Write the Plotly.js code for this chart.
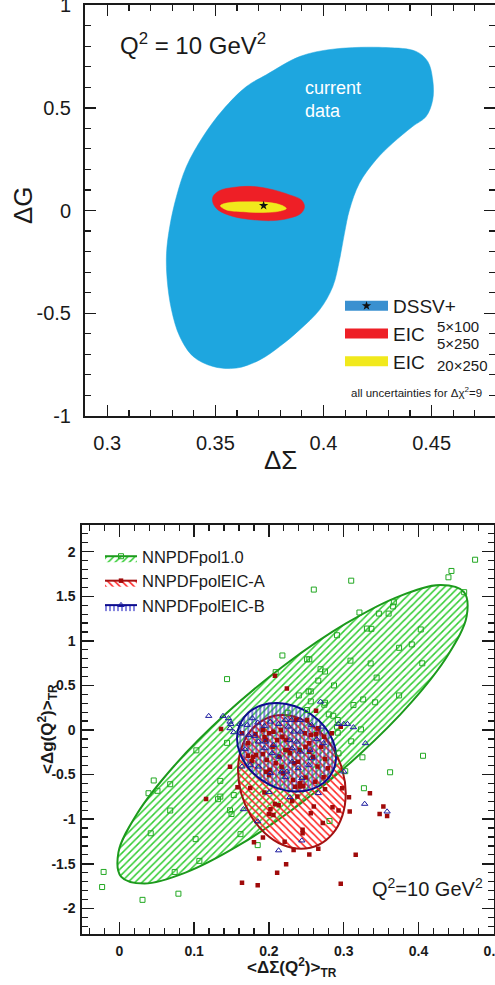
<!DOCTYPE html>
<html><head><meta charset="utf-8">
<script src="https://cdn.plot.ly/plotly-3.0.1.min.js"></script>
<style>html,body{margin:0;padding:0;background:#fff}#chart{width:495px;height:985px}</style>
</head><body><div id="chart"></div>
<script>
// ---------- TOP PANEL DATA (ΔΣ vs ΔG, Q^2 = 10 GeV^2) ----------
var dssvBandX = [0.3735,0.3889,0.4043,0.4289,0.4428,0.4482,0.4505,0.4505,0.4474,0.4412,0.4320,0.4243,0.4166,0.4120,0.4097,0.4074,0.4043,0.3982,0.3889,0.3797,0.3705,0.3597,0.3489,0.3397,0.3335,0.3297,0.3277,0.3274,0.3289,0.3320,0.3366,0.3443,0.3535,0.3643,0.3735];
var dssvBandY = [0.660,0.749,0.785,0.793,0.774,0.725,0.636,0.539,0.457,0.409,0.328,0.247,0.133,0.003,-0.110,-0.240,-0.370,-0.483,-0.581,-0.662,-0.727,-0.767,-0.759,-0.710,-0.613,-0.483,-0.337,-0.208,-0.078,0.068,0.214,0.360,0.490,0.603,0.660];
var eicLowX = [0.3489,0.3520,0.3582,0.3674,0.3766,0.3843,0.3897,0.3912,0.3897,0.3843,0.3766,0.3674,0.3582,0.3512,0.3489,0.3489];
var eicLowY = [0.068,0.097,0.112,0.117,0.101,0.076,0.052,0.019,-0.013,-0.037,-0.049,-0.045,-0.029,0.003,0.036,0.068];
var eicHighX = [0.3523,0.3551,0.3628,0.3720,0.3797,0.3828,0.3797,0.3720,0.3628,0.3551,0.3523];
var eicHighY = [0.023,0.036,0.042,0.041,0.029,0.010,-0.003,-0.010,-0.006,0.003,0.023];
var dssvBestX = [0.3723];
var dssvBestY = [0.024];
var topXTicks = [0.3,0.35,0.4,0.45];
var topXTickText = ['0.3','0.35','0.4','0.45'];
var topYTicks = [-1,-0.5,0,0.5,1];
var topYTickText = ['-1','-0.5','0','0.5','1'];

// ---------- BOTTOM PANEL DATA ----------
var nnpdfEllX = [0.4608,0.4297,0.3748,0.3025,0.2216,0.1420,0.0732,0.0235,-0.0012,0.0023,0.0334,0.0884,0.1606,0.2415,0.3211,0.3900,0.4396,0.4643,0.4608];
var nnpdfEllY = [1.5466,1.6254,1.5022,1.1922,0.7321,0.1784,-0.4034,-0.9418,-1.3724,-1.6437,-1.7224,-1.5993,-1.2892,-0.8291,-0.2754,0.3063,0.8448,1.2754,1.5466];
var eicAEllX = [0.3027,0.2983,0.2858,0.2667,0.2432,0.2182,0.1947,0.1755,0.1630,0.1587,0.1630,0.1755,0.1947,0.2182,0.2432,0.2667,0.2858,0.2983,0.3027];
var eicAEllY = [-0.7123,-0.9571,-1.1567,-1.2869,-1.3321,-1.2869,-1.1567,-0.9571,-0.7123,-0.4519,-0.2071,-0.0075,0.1228,0.1679,0.1228,-0.0075,-0.2071,-0.4519,-0.7123];
var eicBEllX = [0.2898,0.2858,0.2743,0.2567,0.2351,0.2120,0.1904,0.1728,0.1613,0.1573,0.1613,0.1728,0.1904,0.2120,0.2351,0.2567,0.2743,0.2858,0.2898];
var eicBEllY = [-0.2974,-0.4571,-0.5851,-0.6660,-0.6899,-0.6541,-0.5627,-0.4269,-0.2631,-0.0907,0.0690,0.1970,0.2780,0.3019,0.2660,0.1746,0.0388,-0.1250,-0.2974];

var nnpdfRepX = [0.4756,0.444,0.440,0.310,0.260,0.461,0.367,0.366,0.360,0.347,0.321,0.331,0.337,0.403,0.291,0.391,0.374,0.218,0.251,0.254,0.309,0.336,0.405,0.209,0.269,0.275,0.144,0.266,0.344,0.287,0.253,0.256,0.240,0.374,0.326,0.256,0.275,0.274,0.342,0.313,0.251,0.225,0.280,0.286,0.292,0.291,0.323,0.292,0.310,0.144,0.103,0.293,0.325,0.362,0.406,0.302,0.135,0.046,0.068,0.039,0.051,0.153,0.135,0.132,0.327,0.068,0.148,0.150,0.281,0.042,0.102,0.162,0.185,0.107,-0.021,-0.023,0.074,0.079,0.031];
var nnpdfRepY = [1.910,1.784,1.713,1.675,1.575,1.546,1.433,1.386,1.306,1.306,1.318,1.138,1.135,1.128,1.063,0.960,0.922,0.836,0.793,0.793,0.778,0.747,0.748,0.649,0.682,0.656,0.571,0.554,0.588,0.500,0.433,0.433,0.388,0.388,0.343,0.321,0.306,0.284,0.311,0.280,0.224,0.194,0.175,0.160,0.112,0.037,0.007,-0.030,-0.127,-0.144,-0.228,-0.261,-0.306,-0.474,-0.289,-0.462,-0.571,-0.566,-0.608,-0.709,-0.682,-0.730,-0.747,-0.776,-0.653,-0.903,-0.900,-0.942,-1.021,-1.158,-1.224,-1.168,-1.291,-1.468,-1.592,-1.761,-1.592,-1.836,-1.905];

var eicARepX = [0.208,0.224,0.136,0.263,0.296,0.148,0.158,0.175,0.116,0.194,0.208,0.213,0.200,0.206,0.202,0.172,0.177,0.183,0.192,0.197,0.194,0.182,0.200,0.206,0.211,0.218,0.222,0.214,0.209,0.196,0.200,0.217,0.275,0.298,0.307,0.335,0.353,0.358,0.348,0.308,0.293,0.285,0.260,0.256,0.275,0.231,0.238,0.251,0.256,0.263,0.266,0.284,0.249,0.254,0.239,0.226,0.249,0.242,0.235,0.246,0.262,0.273,0.279,0.164,0.172,0.179,0.192,0.196,0.205,0.216,0.223,0.228,0.234,0.241,0.248,0.254,0.259,0.265,0.270,0.274,0.236,0.201,0.219,0.232,0.241,0.180,0.192,0.221,0.187,0.223,0.211,0.164,0.185,0.272,0.245,0.245,0.266,0.254,0.233,0.316,0.296];
var eicARepY = [0.608,0.466,0.011,0.215,0.037,-0.411,-0.642,-0.650,-0.773,-0.702,-0.829,-0.844,-0.941,-0.952,-0.889,-0.288,-0.347,-0.280,-0.269,-0.336,-0.082,-0.048,-0.037,-0.019,-0.112,-0.075,-0.224,-0.299,-0.373,-0.467,-0.504,-0.411,-0.325,-0.653,-0.754,-0.709,-0.859,-0.964,-0.941,-0.915,-0.904,-0.866,-0.859,-0.934,-0.665,-0.795,-0.747,0.112,-0.056,-0.048,0.019,-0.037,-0.187,-0.243,-0.355,-0.224,-0.534,-0.597,-0.635,-0.627,-0.579,-0.530,-0.429,-0.037,-0.149,-0.299,0.000,-0.112,-0.187,0.000,-0.112,-0.261,-0.373,-0.224,-0.037,-0.149,-0.299,-0.410,-0.187,-0.075,0.112,-0.448,-0.485,-0.560,-0.634,-1.259,-1.207,-1.252,-1.442,-1.505,-1.602,-1.714,-1.740,-1.042,-1.120,-1.157,-1.333,-1.397,-1.345,-1.400,-1.725];

var eicBRepX = [0.1195,0.1386,0.146,0.149,0.148,0.153,0.161,0.171,0.178,0.185,0.194,0.202,0.213,0.222,0.173,0.181,0.186,0.195,0.206,0.168,0.194,0.204,0.213,0.164,0.175,0.186,0.202,0.217,0.222,0.166,0.269,0.293,0.300,0.305,0.313,0.329,0.230,0.242,0.226,0.233,0.242,0.257,0.271,0.264,0.273,0.228,0.237,0.231,0.242,0.255,0.257,0.231,0.239,0.253,0.224,0.244,0.300,0.266,0.228,0.328,0.358,0.213,0.244,0.185,0.200,0.148,0.162];
var eicBRepY = [0.157,0.157,0.131,0.067,0.019,-0.026,0.067,0.056,0.131,0.082,0.045,0.093,0.067,0.112,-0.056,-0.067,-0.131,-0.131,-0.168,-0.216,-0.205,-0.261,-0.299,-0.411,-0.392,-0.411,-0.485,-0.467,-0.530,-0.889,0.317,0.067,0.067,0.067,0.030,-0.149,0.112,0.112,0.037,-0.019,-0.019,0.056,0.037,-0.104,-0.149,-0.112,-0.131,-0.205,-0.243,-0.224,-0.317,-0.355,-0.429,-0.392,-0.467,-0.541,-0.467,-0.709,-0.754,-0.829,-0.915,-1.351,-1.240,-1.025,-0.698,0.093,-0.037];

var botXTicks = [0,0.1,0.2,0.3,0.4,0.5];
var botXTickText = ['0','0.1','0.2','0.3','0.4','0.5'];
var botYTicks = [-2,-1.5,-1,-0.5,0,0.5,1,1.5,2];
var botYTickText = ['-2','-1.5','-1','-0.5','0','0.5','1','1.5','2'];

// ---------- STYLES ----------
var INK = '#1a1a1a';
var FONT = 'Liberation Sans, Arial, Helvetica, sans-serif';
var cBlue = '#1ea6df', cBlueLeg = '#3a90d0', cRed = '#ee1f26', cYellow = '#f1e91c';
var gLine = '#1c9a1c', gHatch = '#33cc33', gPt = '#22a822';
var rLine = '#a31212', rHatch = '#ff2020', rPt = '#a00a0a';
var bLine = '#0c0c8e', bHatch = '#3535c8', bPt = '#1c1ca0';

var traces = [
  // top panel
  {x: dssvBandX, y: dssvBandY, xaxis:'x', yaxis:'y', mode:'lines', fill:'toself', fillcolor:cBlue,
   line:{color:cBlue, width:0.5, shape:'spline', smoothing:1}, showlegend:false, hoverinfo:'skip'},
  {x: eicLowX, y: eicLowY, xaxis:'x', yaxis:'y', mode:'lines', fill:'toself', fillcolor:cRed,
   line:{color:cRed, width:0.5, shape:'spline', smoothing:1}, showlegend:false, hoverinfo:'skip'},
  {x: eicHighX, y: eicHighY, xaxis:'x', yaxis:'y', mode:'lines', fill:'toself', fillcolor:cYellow,
   line:{color:cYellow, width:0.5, shape:'spline', smoothing:1}, showlegend:false, hoverinfo:'skip'},
  {x: dssvBestX, y: dssvBestY, xaxis:'x', yaxis:'y', mode:'markers',
   marker:{symbol:'star', size:7, color:'#111'}, showlegend:false},
  // legend entries for top panel (no data drawn)
  {x:[null], y:[null], xaxis:'x', yaxis:'y', mode:'lines+markers', line:{color:cBlueLeg, width:20},
   marker:{symbol:'star', size:7, color:'#111'}, name:'DSSV+', legend:'legend', legendrank:1},
  {x:[null], y:[null], xaxis:'x', yaxis:'y', mode:'lines', line:{color:cRed, width:20},
   name:'EIC', legend:'legend', legendrank:2},
  {x:[null], y:[null], xaxis:'x', yaxis:'y', mode:'lines', line:{color:cYellow, width:20},
   name:'EIC', legend:'legend', legendrank:3},

  // bottom panel ellipses
  {x: nnpdfEllX, y: nnpdfEllY, xaxis:'x2', yaxis:'y2', mode:'lines', fill:'toself', fillcolor:gHatch,
   fillpattern:{shape:'/', fgcolor:gHatch, bgcolor:'rgba(0,0,0,0)', size:5, solidity:0.3},
   line:{color:gLine, width:2, shape:'spline', smoothing:1}, showlegend:false, hoverinfo:'skip'},
  {x: eicAEllX, y: eicAEllY, xaxis:'x2', yaxis:'y2', mode:'lines', fill:'toself', fillcolor:rHatch,
   fillpattern:{shape:'\\', fgcolor:rHatch, bgcolor:'rgba(0,0,0,0)', size:5, solidity:0.3},
   line:{color:rLine, width:2, shape:'spline', smoothing:1}, showlegend:false, hoverinfo:'skip'},
  {x: eicBEllX, y: eicBEllY, xaxis:'x2', yaxis:'y2', mode:'lines', fill:'toself', fillcolor:bHatch,
   fillpattern:{shape:'|', fgcolor:bHatch, bgcolor:'rgba(0,0,0,0)', size:4, solidity:0.3},
   line:{color:bLine, width:2, shape:'spline', smoothing:1}, showlegend:false, hoverinfo:'skip'},
  // replicas
  {x: nnpdfRepX, y: nnpdfRepY, xaxis:'x2', yaxis:'y2', mode:'markers',
   marker:{symbol:'square-open', size:5, color:gPt, line:{width:1}}, showlegend:false},
  {x: eicARepX, y: eicARepY, xaxis:'x2', yaxis:'y2', mode:'markers',
   marker:{symbol:'square', size:4.5, color:rPt}, showlegend:false},
  {x: eicBRepX, y: eicBRepY, xaxis:'x2', yaxis:'y2', mode:'markers',
   marker:{symbol:'triangle-up-open', size:5.5, color:bPt, line:{width:1}}, showlegend:false},
  // legend entries for bottom panel (no data drawn)
  {x:[null], y:[null], xaxis:'x2', yaxis:'y2', mode:'lines+markers', fill:'toself', fillcolor:gHatch,
   fillpattern:{shape:'/', fgcolor:gHatch, bgcolor:'rgba(0,0,0,0)', size:5, solidity:0.3},
   line:{color:gLine, width:2}, marker:{symbol:'square-open', size:5, color:gPt, line:{width:1}},
   name:'NNPDFpol1.0', legend:'legend2', legendrank:1},
  {x:[null], y:[null], xaxis:'x2', yaxis:'y2', mode:'lines+markers', fill:'toself', fillcolor:rHatch,
   fillpattern:{shape:'\\', fgcolor:rHatch, bgcolor:'rgba(0,0,0,0)', size:5, solidity:0.3},
   line:{color:rLine, width:2}, marker:{symbol:'square', size:4.5, color:rPt},
   name:'NNPDFpolEIC-A', legend:'legend2', legendrank:2},
  {x:[null], y:[null], xaxis:'x2', yaxis:'y2', mode:'lines+markers', fill:'toself', fillcolor:bHatch,
   fillpattern:{shape:'|', fgcolor:bHatch, bgcolor:'rgba(0,0,0,0)', size:4, solidity:0.3},
   line:{color:bLine, width:2}, marker:{symbol:'triangle-up-open', size:5.5, color:bPt, line:{width:1}},
   name:'NNPDFpolEIC-B', legend:'legend2', legendrank:3}
];

function axisStyle(extra) {
  var base = {showgrid:false, zeroline:false, showline:true, linecolor:INK, linewidth:2, mirror:'allticks',
    ticks:'inside', tickcolor:INK, tickwidth:1.5, tickmode:'array', fixedrange:true, ticklabeloverflow:'allow'};
  for (var k in extra) base[k] = extra[k];
  return base;
}

var layout = {
  width:495, height:985, margin:{l:0, r:0, t:0, b:0, pad:0},
  paper_bgcolor:'#ffffff', plot_bgcolor:'rgba(0,0,0,0)',
  font:{family:FONT, color:INK},
  showlegend:true,
  xaxis: axisStyle({domain:[85/495, 1], range:[0.2897, 0.4793], anchor:'y',
    tickvals:topXTicks, ticktext:topXTickText, ticklen:11, tickfont:{size:20, color:INK}, ticklabelstandoff:8,
    minor:{tick0:0.3, dtick:0.01, ticks:'inside', ticklen:6, tickwidth:1.2, tickcolor:INK, showgrid:false}}),
  yaxis: axisStyle({domain:[1-416/985, 1-5/985], range:[-1, 1], anchor:'x',
    tickvals:topYTicks, ticktext:topYTickText, ticklen:11, tickfont:{size:20, color:INK}, ticklabelstandoff:8,
    minor:{tick0:0, dtick:0.1, ticks:'inside', ticklen:6, tickwidth:1.2, tickcolor:INK, showgrid:false}}),
  xaxis2: axisStyle({domain:[82.3/495, 494.3/495], range:[-0.0495, 0.5013], anchor:'y2',
    tickvals:botXTicks, ticktext:botXTickText, ticklen:12, tickfont:{size:14, color:INK, weight:'bold'}, ticklabelstandoff:3,
    minor:{tick0:0, dtick:0.02, ticks:'inside', ticklen:6, tickwidth:1.2, tickcolor:INK, showgrid:false}}),
  yaxis2: axisStyle({domain:[1-934/985, 1-525/985], range:[-2.288, 2.2995], anchor:'x2',
    tickvals:botYTicks, ticktext:botYTickText, ticklen:12, tickfont:{size:14, color:INK, weight:'bold'}, ticklabelstandoff:2,
    minor:{tick0:0, dtick:0.1, ticks:'inside', ticklen:6, tickwidth:1.2, tickcolor:INK, showgrid:false}}),
  legend: {x:340/495, y:1-287/985, xanchor:'left', yanchor:'top', bgcolor:'rgba(0,0,0,0)',
    font:{size:19, color:INK}, itemwidth:43, tracegroupgap:0},
  legend2: {x:100/495, y:1-539/985, xanchor:'left', yanchor:'top', bgcolor:'rgba(0,0,0,0)',
    font:{size:16.5, color:INK}, itemwidth:32, tracegroupgap:0},
  annotations: [
    {text:'ΔΣ', xref:'paper', yref:'paper', x:280/495, y:1-460/985, xanchor:'center', yanchor:'middle', showarrow:false, font:{size:26, color:INK}},
    {text:'ΔG', xref:'paper', yref:'paper', x:23/495, y:1-205/985, xanchor:'center', yanchor:'middle', textangle:-90, showarrow:false, font:{size:26, color:INK}},
    {text:'Q<sup>2</sup> = 10 GeV<sup>2</sup>', xref:'paper', yref:'paper', x:118/495, y:1-44/985, xanchor:'left', yanchor:'middle', showarrow:false, font:{size:24, color:INK}},
    {text:'current<br>data', xref:'paper', yref:'paper', x:303/495, y:1-100/985, xanchor:'left', yanchor:'middle', align:'left', showarrow:false, font:{size:18, color:'#ffffff'}},
    {text:'5×100', xref:'paper', yref:'paper', x:435/495, y:1-326/985, xanchor:'left', yanchor:'middle', showarrow:false, font:{size:15, color:INK}},
    {text:'5×250', xref:'paper', yref:'paper', x:435/495, y:1-343/985, xanchor:'left', yanchor:'middle', showarrow:false, font:{size:15, color:INK}},
    {text:'20×250', xref:'paper', yref:'paper', x:435/495, y:1-365/985, xanchor:'left', yanchor:'middle', showarrow:false, font:{size:15, color:INK}},
    {text:'all uncertainties for Δχ<sup>2</sup>=9', xref:'paper', yref:'paper', x:484/495, y:1-392/985, xanchor:'right', yanchor:'middle', showarrow:false, font:{size:11.5, color:INK}},
    {text:'Q<sup>2</sup>=10 GeV<sup>2</sup>', xref:'paper', yref:'paper', x:485/495, y:1-887/985, xanchor:'right', yanchor:'middle', showarrow:false, font:{size:20, color:INK}},
    {text:'&lt;ΔΣ(Q<sup>2</sup>)&gt;<sub>TR</sub>', xref:'paper', yref:'paper', x:292/495, y:1-967/985, xanchor:'center', yanchor:'middle', showarrow:false, font:{size:17, color:INK, weight:'bold'}},
    {text:'&lt;Δg(Q<sup>2</sup>)&gt;<sub>TR</sub>', xref:'paper', yref:'paper', x:47/495, y:1-729/985, xanchor:'center', yanchor:'middle', textangle:-90, showarrow:false, font:{size:17, color:INK, weight:'bold'}}
  ]
};

Plotly.newPlot('chart', traces, layout, {staticPlot:true, displayModeBar:false});
</script></body></html>
